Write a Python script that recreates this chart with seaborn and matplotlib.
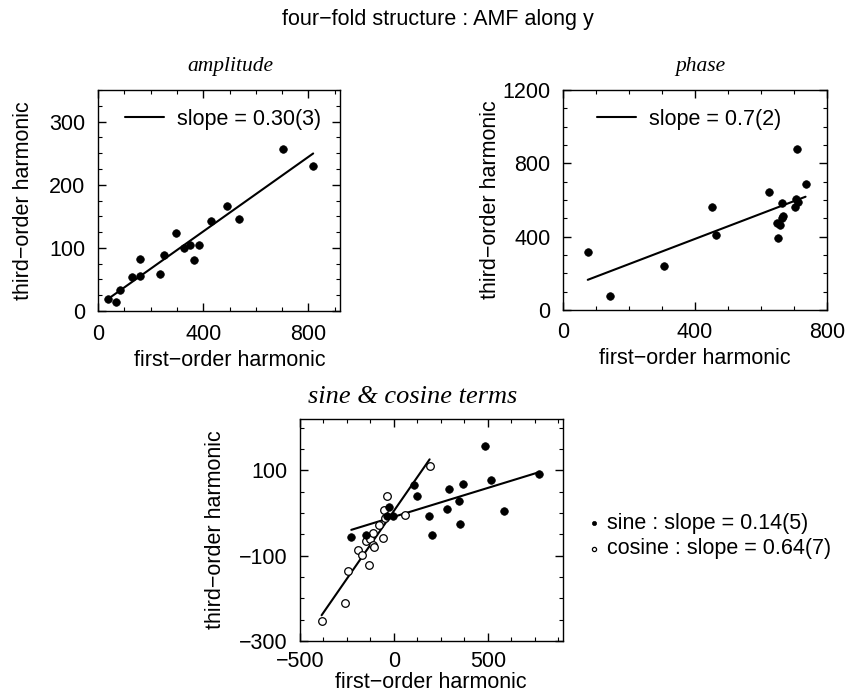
import numpy as np
import pandas as pd
import matplotlib
matplotlib.use("Agg")
import matplotlib.pyplot as plt
from matplotlib.ticker import MultipleLocator, FixedLocator
import seaborn as sns

# ---------------- data ----------------
amp_first = [39, 67, 84, 131, 160, 160, 237, 251, 297, 328, 350, 364, 385, 429, 490, 537, 704, 818]
amp_third = [19, 15, 33, 54, 55, 83, 59, 88, 124, 100, 105, 80, 105, 143, 167, 146, 257, 230]

phase_first = [75, 141, 305, 450, 465, 624, 663, 647, 657, 663, 668, 653, 708, 706, 713, 703, 735]
phase_third = [316, 78, 241, 561, 407, 641, 584, 475, 466, 502, 511, 393, 877, 608, 590, 561, 689]

sine_first = [-227, -149, -27, -36, -4, 108, 124, 186, 202, 280, 293, 344, 351, 367, 484, 516, 585, 773]
sine_third = [-57, -51, 15, -8, -8, 65, 40, -7, -52, 9, 55, 29, -26, 68, 156, 77, 5, 92]

cos_first = [-385, -259, -246, -190, -170, -133, -149, -126, -113, -110, -106, -78, -57, -52, -36, -48, 60, 190]
cos_third = [-254, -210, -137, -88, -98, -122, -66, -62, -48, -76, -80, -29, -58, 6, 40, -11, -4, 109]

sc_yticks = [-300, -100, 100]

title_main = "four\u2212fold structure : AMF along y"
xlab = "first\u2212order harmonic"
ylab = "third\u2212order harmonic"

# ---------------- style ----------------
sns.set_style("ticks")
plt.rcParams["font.family"] = ["Liberation Sans", "DejaVu Sans"]
FS = 15.5
plt.rcParams["font.size"] = FS
plt.rcParams["axes.linewidth"] = 1.0
plt.rcParams["text.color"] = "black"
plt.rcParams["axes.labelcolor"] = "black"
plt.rcParams["xtick.color"] = "black"
plt.rcParams["ytick.color"] = "black"
plt.rcParams["axes.edgecolor"] = "black"

W, H = 846, 698
fig = plt.figure(figsize=(W / 100, H / 100), dpi=100)

BOX1 = (98, 90, 340, 311)
BOX2 = (563, 90, 827, 310)
BOX3 = (300, 419, 563, 641)

def box(l, t, r, b):
    return [l / W, 1 - b / H, (r - l) / W, (b - t) / H]

ax1 = fig.add_axes(box(*BOX1))
ax2 = fig.add_axes(box(*BOX2))
ax3 = fig.add_axes(box(*BOX3))

title_font = dict(family=["Liberation Serif", "DejaVu Serif"], style="italic", color="black")

def style_axis(ax, bx, xmaj, xmin, ymaj, ymin, xlab_c, xlab_top, ylab_c):
    l, t, r, b = bx
    ax.xaxis.set_major_locator(MultipleLocator(xmaj))
    ax.xaxis.set_minor_locator(MultipleLocator(xmin))
    if isinstance(ymaj, list):
        ax.yaxis.set_major_locator(FixedLocator(ymaj))
    else:
        ax.yaxis.set_major_locator(MultipleLocator(ymaj))
    ax.yaxis.set_minor_locator(MultipleLocator(ymin))
    ax.tick_params(which="both", direction="in", top=True, right=True, colors="black",
                   labelsize=FS, pad=9)
    ax.tick_params(which="major", length=6, width=1)
    ax.tick_params(which="minor", length=3, width=0.8)
    for s in ax.spines.values():
        s.set_visible(True)
        s.set_color("black")
    ax.set_xlabel(xlab, fontsize=FS, color="black")
    ax.set_ylabel(ylab, fontsize=FS, color="black")
    # label positions in axes coordinates (pixel targets from the reference)
    ax.xaxis.set_label_coords((xlab_c - l) / (r - l), (b - xlab_top) / (b - t))
    ax.yaxis.set_label_coords((ylab_c + 11 - l) / (r - l), 0.5)

dot = dict(s=30, color="black", edgecolor="black", linewidth=0.5)

# ---- panel 1: amplitude ----
df1 = pd.DataFrame({"x": amp_first, "y": amp_third})
sns.regplot(data=df1, x="x", y="y", ax=ax1, scatter=False, ci=None, truncate=True,
            color="black", line_kws=dict(lw=1.5), label="slope = 0.30(3)")
sns.scatterplot(data=df1, x="x", y="y", ax=ax1, **dot)
ax1.set_xlim(0, 920)
ax1.set_ylim(0, 350)
style_axis(ax1, BOX1, 400, 100, 100, 25, 230, 350, 23)
ax1.legend(loc="center left", frameon=False, fontsize=FS, handlelength=1.8,
           handletextpad=0.6, borderaxespad=0.0, borderpad=0.0,
           bbox_to_anchor=((125 - 98) / 242, (311 - 119) / 221))

# ---- panel 2: phase ----
df2 = pd.DataFrame({"x": phase_first, "y": phase_third})
sns.regplot(data=df2, x="x", y="y", ax=ax2, scatter=False, ci=None, truncate=True,
            color="black", line_kws=dict(lw=1.5), label="slope = 0.7(2)")
sns.scatterplot(data=df2, x="x", y="y", ax=ax2, **dot)
ax2.set_xlim(0, 800)
ax2.set_ylim(0, 1200)
style_axis(ax2, BOX2, 400, 100, 400, 100, 695, 348, 490)
ax2.legend(loc="center left", frameon=False, fontsize=FS, handlelength=1.8,
           handletextpad=0.6, borderaxespad=0.0, borderpad=0.0,
           bbox_to_anchor=((597 - 563) / 264, (310 - 119) / 220))

# ---- panel 3: sine & cosine ----
dfs = pd.DataFrame({"x": sine_first, "y": sine_third})
dfc = pd.DataFrame({"x": cos_first, "y": cos_third})
sns.regplot(data=dfs, x="x", y="y", ax=ax3, scatter=False, ci=None, truncate=True,
            color="black", line_kws=dict(lw=1.5))
sns.regplot(data=dfc, x="x", y="y", ax=ax3, scatter=False, ci=None, truncate=True,
            color="black", line_kws=dict(lw=1.5))
sns.scatterplot(data=dfc, x="x", y="y", ax=ax3, s=30, color="white", edgecolor="black",
                linewidth=0.9, label="cosine : slope = 0.64(7)", zorder=3)
sns.scatterplot(data=dfs, x="x", y="y", ax=ax3, s=30, color="black", edgecolor="black",
                linewidth=0.5, label="sine : slope = 0.14(5)", zorder=4)
ax3.set_xlim(-500, 900)
ax3.set_ylim(-300, 220)
style_axis(ax3, BOX3, 500, 125, sc_yticks, 50, 431, 672, 215)
ax3.tick_params(axis="x", pad=7)
h, l = ax3.get_legend_handles_labels()
order = [l.index("sine : slope = 0.14(5)"), l.index("cosine : slope = 0.64(7)")]
ax3.legend([h[i] for i in order], [l[i] for i in order], loc="center left",
           bbox_to_anchor=((588 - 300) / 263, (641 - 536) / 222), frameon=False,
           fontsize=FS, markerscale=0.55, handlelength=0.6, handletextpad=0.3,
           labelspacing=0.2, borderpad=0.0, borderaxespad=0.0)

# titles
fig.text(438 / W, 1 - 20 / H, title_main, ha="center", va="center", fontsize=FS, color="black")
fig.text(230 / W, 1 - 67 / H, "amplitude", ha="center", va="center", fontsize=FS, **title_font)
fig.text(700 / W, 1 - 67 / H, "phase", ha="center", va="center", fontsize=FS, **title_font)
fig.text(413 / W, 1 - 397 / H, "sine & cosine terms", ha="center", va="center",
         fontsize=19, **title_font)

fig.savefig("out.png", dpi=100, facecolor="white")
